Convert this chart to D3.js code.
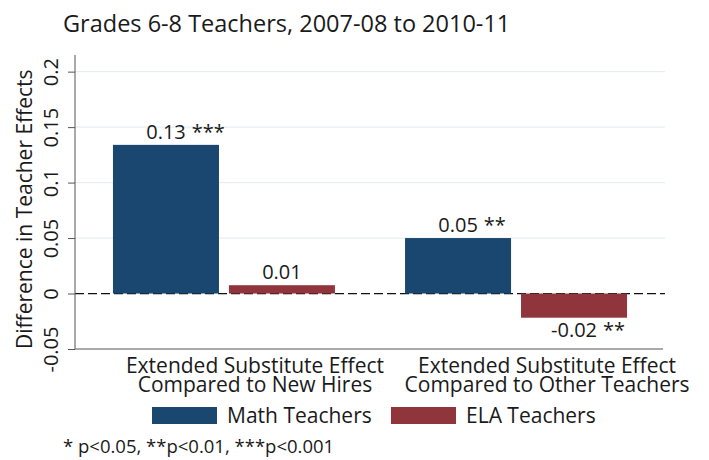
<!DOCTYPE html>
<html>
<head>
<meta charset="utf-8">
<script src="https://cdn.jsdelivr.net/npm/d3@7"></script>
<style>
  body { margin: 0; background: #fff; }
  svg { font-family: "Open Sans", sans-serif; fill: #1a1a1a; }
</style>
</head>
<body>
<svg id="chart"></svg>
<script>
/* data */
var groups = ["Extended Substitute Effect|Compared to New Hires",
              "Extended Substitute Effect|Compared to Other Teachers"];
var seriesNames = ["Math Teachers", "ELA Teachers"];
var mathValues = [0.134, 0.050];
var elaValues = [0.0075, -0.0218];
var mathLabels = ["0.13", "0.05"];
var elaLabels = ["0.01", "-0.02"];
var mathStars = ["***", "**"];
var elaStars = ["", "**"];
var yTicks = [-0.05, 0, 0.05, 0.1, 0.15, 0.2];
var yTickLabels = ["-0.05", "0", "0.05", "0.1", "0.15", "0.2"];

/* settings */
var width = 709, height = 460,
    margin = { top: 55, right: 44, bottom: 111, left: 75 },
    colors = ["#1a476f", "#90353b"],
    gridColor = "#e6eef3",
    axisColor = "#555";

var innerWidth = width - margin.left - margin.right,
    innerHeight = height - margin.top - margin.bottom;

var rows = [];
groups.forEach(function (g, i) {
  rows.push({ group: g, series: seriesNames[0], value: mathValues[i], label: mathLabels[i], stars: mathStars[i] });
  rows.push({ group: g, series: seriesNames[1], value: elaValues[i], label: elaLabels[i], stars: elaStars[i] });
});

var svg = d3.select("#chart")
    .attr("width", width)
    .attr("height", height);

/* title */
svg.append("text")
    .attr("x", 63).attr("y", 32)
    .style("font-size", "23.5px")
    .text("Grades 6-8 Teachers, 2007-08 to 2010-11");

var g = svg.append("g")
    .attr("transform", "translate(" + margin.left + "," + margin.top + ")");

/* scales */
var x0 = d3.scaleBand()
    .domain(groups)
    .range([0, innerWidth])
    .paddingInner(0.24)
    .paddingOuter(0.13);

var x1 = d3.scaleBand()
    .domain(seriesNames)
    .range([0, x0.bandwidth()])
    .paddingInner(0.086);

var y = d3.scaleLinear()
    .domain([-0.05, 0.215])
    .range([innerHeight, 0]);

var color = d3.scaleOrdinal().domain(seriesNames).range(colors);

/* grid */
g.selectAll(".grid")
  .data(yTicks.filter(function (d) { return d > 0; }))
  .enter().append("line")
    .attr("class", "grid")
    .attr("x1", 0).attr("x2", innerWidth)
    .attr("y1", function (d) { return y(d); })
    .attr("y2", function (d) { return y(d); })
    .attr("stroke", gridColor)
    .attr("stroke-width", 1.2);

/* zero line */
g.append("line")
    .attr("x1", 0).attr("x2", innerWidth)
    .attr("y1", y(0)).attr("y2", y(0))
    .attr("stroke", "#111")
    .attr("stroke-width", 1.3)
    .attr("stroke-dasharray", "9,4");

/* bars */
g.selectAll(".bar")
  .data(rows)
  .enter().append("rect")
    .attr("class", "bar")
    .attr("x", function (d) { return x0(d.group) + x1(d.series); })
    .attr("y", function (d) { return y(Math.max(0, d.value)); })
    .attr("width", x1.bandwidth())
    .attr("height", function (d) { return Math.abs(y(d.value) - y(0)); })
    .attr("fill", function (d) { return color(d.series); });

/* bar labels: number centred on the bar, stars appended after it */
var labels = g.selectAll(".bar-label")
  .data(rows)
  .enter().append("g")
    .attr("class", "bar-label")
    .attr("transform", function (d) {
      var cx = x0(d.group) + x1(d.series) + x1.bandwidth() / 2,
          ly = d.value >= 0 ? y(d.value) - 6 : y(d.value) + 19;
      return "translate(" + cx + "," + ly + ")";
    });

labels.append("text")
    .attr("class", "num")
    .style("font-size", "20px")
    .style("text-anchor", "middle")
    .text(function (d) { return d.label; });

labels.append("text")
    .attr("class", "stars")
    .style("font-size", "20px")
    .attr("x", function (d) {
      var w = d3.select(this.parentNode).select(".num").node().getComputedTextLength();
      return w / 2 + 6;
    })
    .text(function (d) { return d.stars; });

/* y axis */
var yAxis = d3.axisLeft(y)
    .tickValues(yTicks)
    .tickSize(7)
    .tickFormat(function (d, i) { return yTickLabels[i]; });

var yAxisG = g.append("g").attr("class", "y-axis").call(yAxis);
yAxisG.select(".domain").attr("stroke", axisColor).attr("d", "M0," + innerHeight + "V0");
yAxisG.selectAll(".tick line").attr("stroke", axisColor);
yAxisG.selectAll(".tick text")
    .attr("x", 0).attr("y", 0).attr("dy", null)
    .attr("transform", "translate(-17,0) rotate(-90)")
    .style("text-anchor", "middle")
    .style("font-size", "20px")
    .style("font-family", "Open Sans, sans-serif")
    .attr("fill", "#1a1a1a");

/* y axis title */
g.append("text")
    .attr("transform", "translate(" + (32 - margin.left) + "," + (y(0.076)) + ") rotate(-90)")
    .style("text-anchor", "middle")
    .style("font-size", "21px")
    .text("Difference in Teacher Effects");

/* x axis line */
g.append("line")
    .attr("x1", 0).attr("x2", innerWidth - 2)
    .attr("y1", innerHeight).attr("y2", innerHeight)
    .attr("stroke", axisColor);

/* category labels */
var cat = g.selectAll(".cat")
  .data(groups)
  .enter().append("text")
    .attr("class", "cat")
    .style("font-size", "21px")
    .style("text-anchor", "middle")
    .attr("transform", function (d) {
      return "translate(" + (x0(d) + x0.bandwidth() / 2 + 31) + "," + (innerHeight + 24) + ")";
    });
cat.selectAll("tspan")
  .data(function (d) { return d.split("|"); })
  .enter().append("tspan")
    .attr("x", 0)
    .attr("dy", function (d, i) { return i ? 18.5 : 0; })
    .text(function (d) { return d; });

/* legend */
var legend = svg.append("g").attr("class", "legend");
var legendX = d3.scaleOrdinal().domain(seriesNames).range([152, 391]);
var item = legend.selectAll(".item")
  .data(seriesNames)
  .enter().append("g")
    .attr("transform", function (d) { return "translate(" + legendX(d) + ",407)"; });
item.append("rect")
    .attr("width", 65).attr("height", 17)
    .attr("fill", function (d) { return color(d); });
item.append("text")
    .attr("x", 75).attr("y", 16)
    .style("font-size", "21px")
    .text(function (d) { return d; });

/* footnote */
svg.append("text")
    .attr("x", 63).attr("y", 453)
    .style("font-size", "18.5px")
    .text("* p<0.05, **p<0.01, ***p<0.001");
</script>
</body>
</html>
